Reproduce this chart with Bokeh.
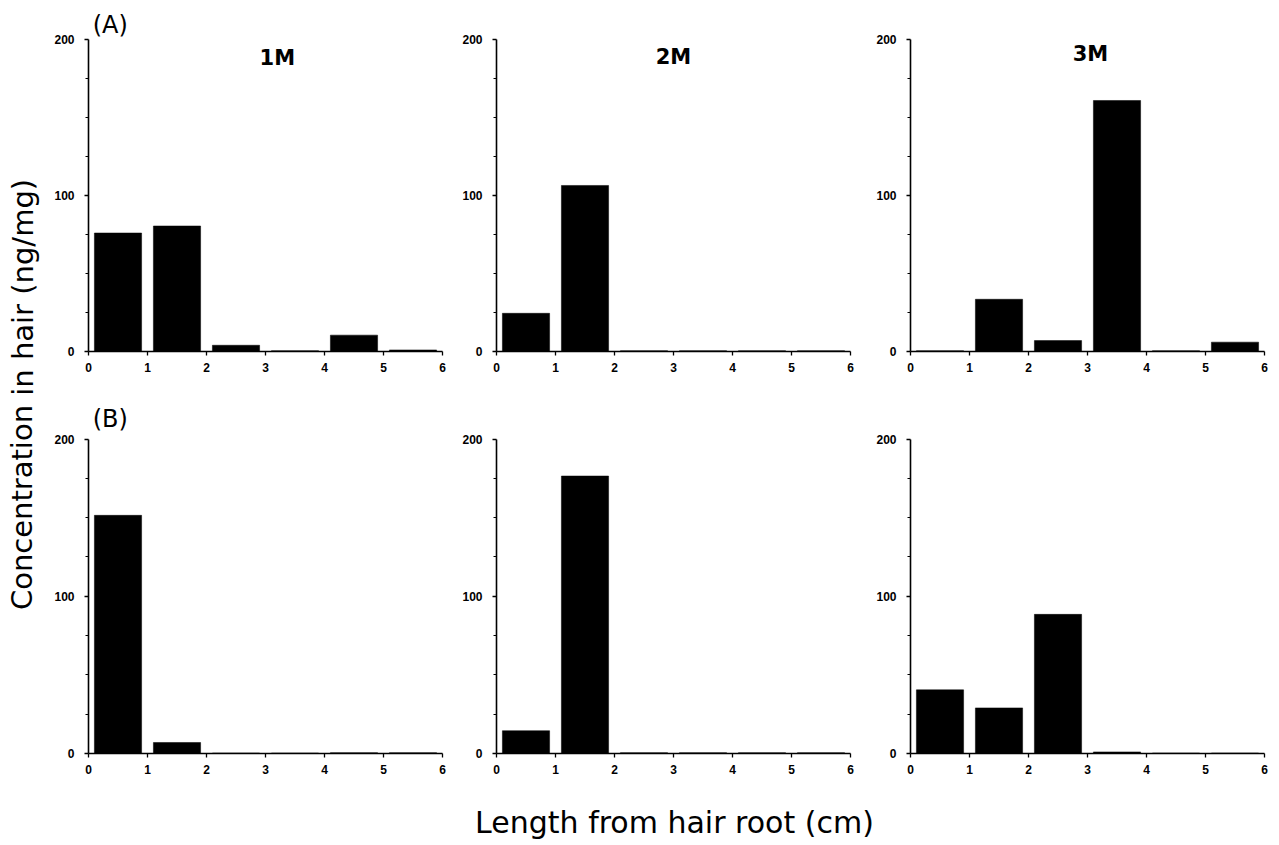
from bokeh.plotting import figure
from bokeh.layouts import row, column
from bokeh.models import Range1d, FixedTicker, ColumnDataSource
from bokeh.core.properties import value
from bokeh.embed import file_html
from bokeh.resources import INLINE

# ---- data ----
segment_mid = [0.5, 1.5, 2.5, 3.5, 4.5, 5.5]   # cm from hair root (segment centres)
x_ticks = [0, 1, 2, 3, 4, 5, 6]
y_major = [0, 100, 200]
y_minor = [25, 50, 75, 125, 150, 175]

months = ["1M", "2M", "3M"]
conc_A_1M = [76, 80.5, 4, 0.5, 10.5, 1]
conc_A_2M = [24.5, 106.5, 0.5, 0.5, 0.5, 0.5]
conc_A_3M = [0.5, 33.5, 7, 161, 0.5, 6]
conc_B_1M = [151.5, 7, 0.3, 0.3, 0.5, 0.5]
conc_B_2M = [14.5, 176.5, 0.5, 0.5, 0.5, 0.5]
conc_B_3M = [40.5, 29, 88.5, 1, 0.3, 0.3]

y_label = "Concentration in hair (ng/mg)"
x_label = "Length from hair root (cm)"
group_tags = ["(A)", "(B)"]

TEXT_FONT = value("DejaVu Sans")


def make_panel(vals, ymax, frame_w, frame_h, bl, br, bt, bb,
               month=None, month_x=3.0, month_y=183, tag=None, tag_y=210):
    p = figure(frame_width=frame_w, frame_height=frame_h,
               x_range=Range1d(0, 6), y_range=Range1d(0, ymax),
               output_backend="svg", toolbar_location=None,
               min_border_left=bl, min_border_right=br,
               min_border_top=bt, min_border_bottom=bb)
    p.outline_line_color = None
    p.xgrid.visible = False
    p.ygrid.visible = False
    p.background_fill_color = "white"
    p.border_fill_color = "white"

    src = ColumnDataSource(dict(x=segment_mid, top=vals))
    p.vbar(x="x", top="top", bottom=0, width=0.8, source=src,
           fill_color="black", line_color="black", line_width=0.5)

    for ax in (p.xaxis[0], p.yaxis[0]):
        ax.axis_line_color = "black"
        ax.axis_line_width = 1.6
        ax.major_tick_line_color = "black"
        ax.major_tick_line_width = 1.3
        ax.minor_tick_line_color = "black"
        ax.minor_tick_line_width = 1
        ax.major_tick_in = 0
        ax.major_tick_out = 4
        ax.minor_tick_in = 0
        ax.minor_tick_out = 3
        ax.major_label_text_font = "Liberation Sans"
        ax.major_label_text_font_style = "bold"
        ax.major_label_text_font_size = "12px"
        ax.major_label_text_color = "black"

    p.xaxis[0].ticker = FixedTicker(ticks=x_ticks, minor_ticks=[])
    p.xaxis[0].bounds = (0, 6)
    p.xaxis[0].major_label_standoff = 7
    p.yaxis[0].ticker = FixedTicker(ticks=y_major, minor_ticks=y_minor)
    p.yaxis[0].bounds = (0, 200)
    p.yaxis[0].major_label_standoff = 10

    if month is not None:
        p.text(x=[month_x], y=[month_y], text=[month], text_font=TEXT_FONT,
               text_font_style="bold", text_font_size="21px",
               text_align="center", text_baseline="alphabetic", text_color="black")
    if tag is not None:
        p.text(x=[0.07], y=[tag_y], text=[tag], text_font=TEXT_FONT,
               text_font_size="24px", text_align="left",
               text_baseline="middle", text_color="black")
    return p


FW = 354
A_H, A_MAX = 343, 220
B_H, B_MAX = 349, 222
TOP = 8

a1 = make_panel(conc_A_1M, A_MAX, FW, A_H, 40, 14, TOP, 53, month=months[0],
                month_x=3.2, month_y=188, tag=group_tags[0], tag_y=209.6)
a2 = make_panel(conc_A_2M, A_MAX, FW, A_H, 40, 20, TOP, 53, month=months[1],
                month_x=3.0, month_y=189)
a3 = make_panel(conc_A_3M, A_MAX, FW, A_H, 40, 6, TOP, 53, month=months[2],
                month_x=3.05, month_y=191)
b1 = make_panel(conc_B_1M, B_MAX, FW, B_H, 40, 14, 0, 30,
                tag=group_tags[1], tag_y=212.5)
b2 = make_panel(conc_B_2M, B_MAX, FW, B_H, 40, 20, 0, 30)
b3 = make_panel(conc_B_3M, B_MAX, FW, B_H, 40, 6, 0, 30)


def text_fig(w, h, x, y, txt, size, angle=0.0):
    f = figure(frame_width=w, frame_height=h, x_range=Range1d(0, 1),
               y_range=Range1d(0, 1), output_backend="svg",
               toolbar_location=None, x_axis_type=None, y_axis_type=None,
               min_border=0, min_border_left=0, min_border_right=0,
               min_border_top=0, min_border_bottom=0)
    f.outline_line_color = None
    f.xgrid.visible = False
    f.ygrid.visible = False
    f.text(x=[x], y=[y], text=[txt], text_font=TEXT_FONT,
           text_font_size=size, text_align="center", text_baseline="middle",
           angle=angle, text_color="black")
    return f


YLAB_W = 48
grid_h = TOP + A_H + 53 + B_H + 30
total_w = YLAB_W + (40 + FW + 14) + (40 + FW + 20) + (40 + FW + 6)
XLAB_H = 844 - grid_h
ylab = text_fig(YLAB_W, grid_h, 22 / YLAB_W, 1 - 394 / grid_h, y_label, "29px",
                angle=1.5707963)
xlab = text_fig(total_w, XLAB_H, 674 / total_w, (844 - 822) / XLAB_H, x_label, "30px")

layout = column(row(ylab, column(row(a1, a2, a3), row(b1, b2, b3))), xlab)

open("out.html", "w").write(file_html(layout, INLINE))
